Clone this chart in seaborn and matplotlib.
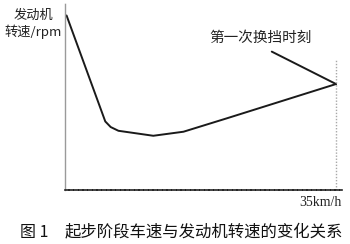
import matplotlib
matplotlib.use("Agg")
import matplotlib.pyplot as plt
import seaborn as sns
import pandas as pd

# data (km/h, rpm)
speed = [0.2, 5.2, 5.9, 6.9, 11.4, 15.3, 20.9, 35.0]
rpm = [2800, 1100, 1010, 950, 870, 935, 1150, 1700]
shift_speed = [26.7, 35.0]
shift_rpm = [2220, 1700]

y_label = "发动机\n转速/rpm"
x_label = "35km/h"
annot = "第一次换挡时刻"
fig_no = "图 1"
caption = "起步阶段车速与发动机转速的变化关系"

sns.set_style("white")
plt.rcParams['font.family'] = ['Noto Sans CJK SC', 'DejaVu Sans']

fig = plt.figure(figsize=(3.5, 2.44), dpi=100)
ax = fig.add_axes([65/350, 1-190/244, (342-65)/350, (190-3)/244])

df1 = pd.DataFrame({"speed": speed, "rpm": rpm})
df2 = pd.DataFrame({"speed": shift_speed, "rpm": shift_rpm})
sns.lineplot(data=df1, x="speed", y="rpm", sort=False, color="#1a1a1a", lw=1.4, ax=ax)
sns.lineplot(data=df2, x="speed", y="rpm", sort=False, color="#1a1a1a", lw=1.4, ax=ax)
ax.vlines(35.0, 0, 2100, colors="#a8a8a8", linestyles=(0, (1, 1.2)), lw=1.0)

ax.set_xlim(0, 35.77)
ax.set_ylim(0, 3000)
ax.set_xticks([])
ax.set_yticks([])
ax.set_xlabel("")
ax.set_ylabel("")
for s in ["top", "right"]:
    ax.spines[s].set_visible(False)
ax.spines["left"].set_color("#9a9a9a")
ax.spines["left"].set_linestyle((0, (1.5, 1)))
ax.spines["left"].set_linewidth(1.0)
ax.spines["bottom"].set_color("#222222")
ax.spines["bottom"].set_linestyle((0, (2, 0.8)))
ax.spines["bottom"].set_linewidth(1.2)

fig.text(33/350, 1-24/244, y_label, ha="center", va="center", fontsize=9.5,
         linespacing=1.3, color="#222222")
fig.text(261/350, 1-38/244, annot, ha="center", va="center", fontsize=10.5, color="#222222")
fig.text(320/350, 1-202/244, x_label, ha="center", va="center", fontsize=10,
         family=["Liberation Serif", "DejaVu Serif"], color="#222222")
fig.text(34/350, 1-232/244, fig_no, ha="center", va="center", fontsize=11.5, color="#111111")
fig.text(204/350, 1-232/244, caption, ha="center", va="center", fontsize=11.8, color="#111111")

fig.savefig("out.png", dpi=100)
